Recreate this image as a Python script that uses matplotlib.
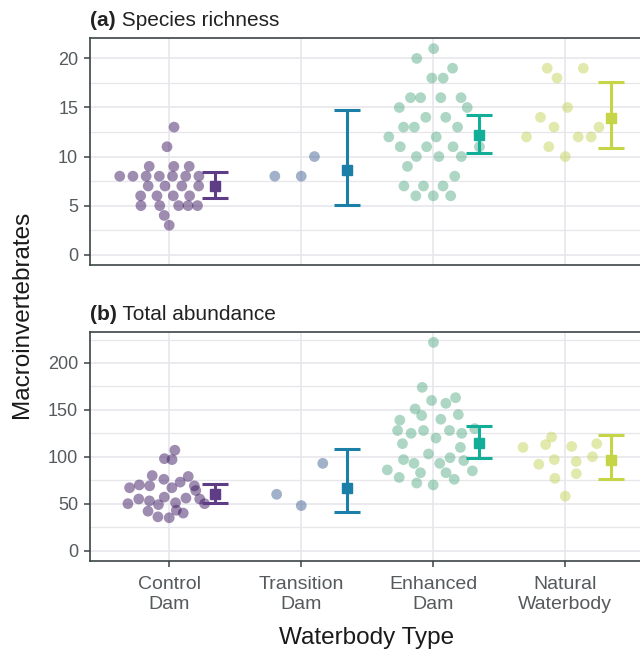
import numpy as np
import matplotlib
matplotlib.use("Agg")
import matplotlib.pyplot as plt
from matplotlib.ticker import MultipleLocator

plt.rcParams["font.family"] = ["Liberation Sans", "DejaVu Sans"]

# ---- data -------------------------------------------------------------
categories = ["Control\nDam", "Transition\nDam", "Enhanced\nDam", "Natural\nWaterbody"]

rich_control = [13, 11, 9, 9, 9, 8, 8, 8, 8, 8, 8, 8, 7, 7, 7, 7, 6, 6, 6, 6, 5, 5, 5, 5, 5, 4, 3]
rich_transition = [8, 8, 10]
rich_enhanced = [21, 20, 19, 18, 18, 16, 16, 16, 16, 15, 15, 14, 14, 13, 13, 13, 12, 12,
                 11, 11, 11, 11, 10, 10, 10, 9, 8, 7, 7, 7, 6, 6, 6]
rich_natural = [19, 19, 18, 15, 14, 13, 13, 12, 12, 12, 11, 10]

abund_control = [107, 98, 97, 80, 79, 76, 70, 69, 73, 67, 67, 69, 64, 55, 57, 56, 55, 50,
                 53, 50, 51, 49, 42, 43, 40, 36, 35]
abund_transition = [60, 48, 93]
abund_enhanced = [222, 174, 160, 157, 163, 151, 144, 139, 140, 145, 128, 125, 128, 128, 125,
                  130, 120, 114, 110, 103, 97, 93, 93, 99, 96, 86, 83, 83, 85, 78, 76, 72, 70]
abund_natural = [121, 113, 111, 114, 110, 100, 97, 95, 92, 82, 77, 58]

rich_mean = [7.0, 8.67, 12.2, 13.9]
rich_lo = [5.8, 5.1, 10.4, 10.9]
rich_hi = [8.4, 14.7, 14.2, 17.6]

abund_mean = [60.6, 66.7, 114.6, 96.5]
abund_lo = [51.1, 41.1, 98.9, 76.3]
abund_hi = [71.3, 108.2, 132.6, 123.1]

POINT_COLORS = ["#3f1b64", "#446494", "#5caf8a", "#c6d45d"]
BAR_COLORS = ["#5e3c86", "#1b7fa7", "#12ae98", "#c5d545"]
GRID = "#e6e6eb"
SPINE = "#3c4447"
TICK_TXT = "#555a5d"


def van_der_corput(n):
    out = []
    for k in range(1, n + 1):
        v, denom = 0.0, 1.0
        while k:
            denom *= 2
            k, r = divmod(k, 2)
            v += r / denom
        out.append(v)
    return np.array(out)


def quasirandom_offsets(y, width=0.4, adjust=0.5):
    # same idea as ggbeeswarm::geom_quasirandom
    y = np.asarray(y, dtype=float)
    n = len(y)
    if n < 2:
        return np.zeros(n)
    sd = y.std(ddof=1)
    iqr = np.subtract(*np.percentile(y, [75, 25]))
    lo = min(sd, iqr / 1.34) or sd or 1.0
    bw = 0.9 * lo * n ** -0.2 * adjust
    grid = np.linspace(y.min() - 3 * bw, y.max() + 3 * bw, 512)
    dens = np.exp(-0.5 * ((grid[:, None] - y[None, :]) / bw) ** 2).sum(axis=1)
    dens /= dens.max()
    d_at = np.interp(y, grid, dens)
    rank = np.empty(n, dtype=int)
    rank[np.argsort(y, kind="stable")] = np.arange(n)
    return (van_der_corput(n)[rank] - 0.5) * 2 * width * d_at


def style_axes(ax, ylim, major, minor):
    ax.set_xlim(0.4, 4.6)
    ax.set_ylim(*ylim)
    ax.set_xticks(range(1, 5))
    ax.yaxis.set_major_locator(MultipleLocator(major))
    ax.yaxis.set_minor_locator(MultipleLocator(minor))
    ax.grid(True, which="major", color=GRID, lw=1.1)
    ax.grid(True, which="minor", axis="y", color=GRID, lw=0.9)
    ax.set_axisbelow(True)
    for s in ax.spines.values():
        s.set_color(SPINE)
        s.set_linewidth(1.2)
    ax.tick_params(which="major", length=4, width=1.1, color=SPINE,
                   labelsize=13, labelcolor=TICK_TXT, pad=4.5)
    ax.tick_params(which="minor", length=0)


def panel(ax, groups, means, los, his):
    for k, vals in enumerate(groups):
        xc = k + 1
        offs = quasirandom_offsets(vals)
        ax.scatter(xc + offs, vals, s=60, color=POINT_COLORS[k], alpha=0.5,
                   edgecolors="none", zorder=2)
        ax.errorbar(xc + 0.35, means[k],
                    yerr=[[means[k] - los[k]], [his[k] - means[k]]],
                    fmt="s", ms=6.5, color=BAR_COLORS[k], elinewidth=2.2,
                    capsize=9.5, capthick=2.2, zorder=3)


def panel_title(ax, tag, text):
    t1 = ax.text(0, 1.035, tag, transform=ax.transAxes, fontsize=15,
                 fontweight="bold", color="#222222", ha="left", va="bottom")
    ax.annotate(" " + text, xy=(1, 0), xycoords=t1, fontsize=15,
                color="#222222", ha="left", va="bottom")


fig = plt.figure(figsize=(6.4, 6.52), dpi=100)
W, H = 640, 652
ax1 = fig.add_axes([90 / W, 1 - 265 / H, (644.5 - 90) / W, (265 - 38.3) / H])
ax2 = fig.add_axes([90 / W, 1 - 561 / H, (644.5 - 90) / W, (561 - 332.3) / H])

style_axes(ax1, (-1.05, 22.05), 5, 2.5)
style_axes(ax2, (-11.1, 232.7), 50, 25)
ax1.set_xticklabels([])
ax1.tick_params(axis="x", length=0)
ax2.set_xticklabels(categories, fontsize=14, linespacing=1.22)
ax2.tick_params(axis="x", pad=7)

panel(ax1, [rich_control, rich_transition, rich_enhanced, rich_natural],
      rich_mean, rich_lo, rich_hi)
panel(ax2, [abund_control, abund_transition, abund_enhanced, abund_natural],
      abund_mean, abund_lo, abund_hi)

panel_title(ax1, "(a)", "Species richness")
panel_title(ax2, "(b)", "Total abundance")

fig.text(22 / W, 1 - 314 / H, "Macroinvertebrates", rotation=90, ha="center",
         va="center", fontsize=17.5, color="#1a1a1a")
fig.text(367 / W, 1 - 638 / H, "Waterbody Type", ha="center", va="center",
         fontsize=17.5, color="#1a1a1a")

fig.savefig("out.png", dpi=100, facecolor="white")
